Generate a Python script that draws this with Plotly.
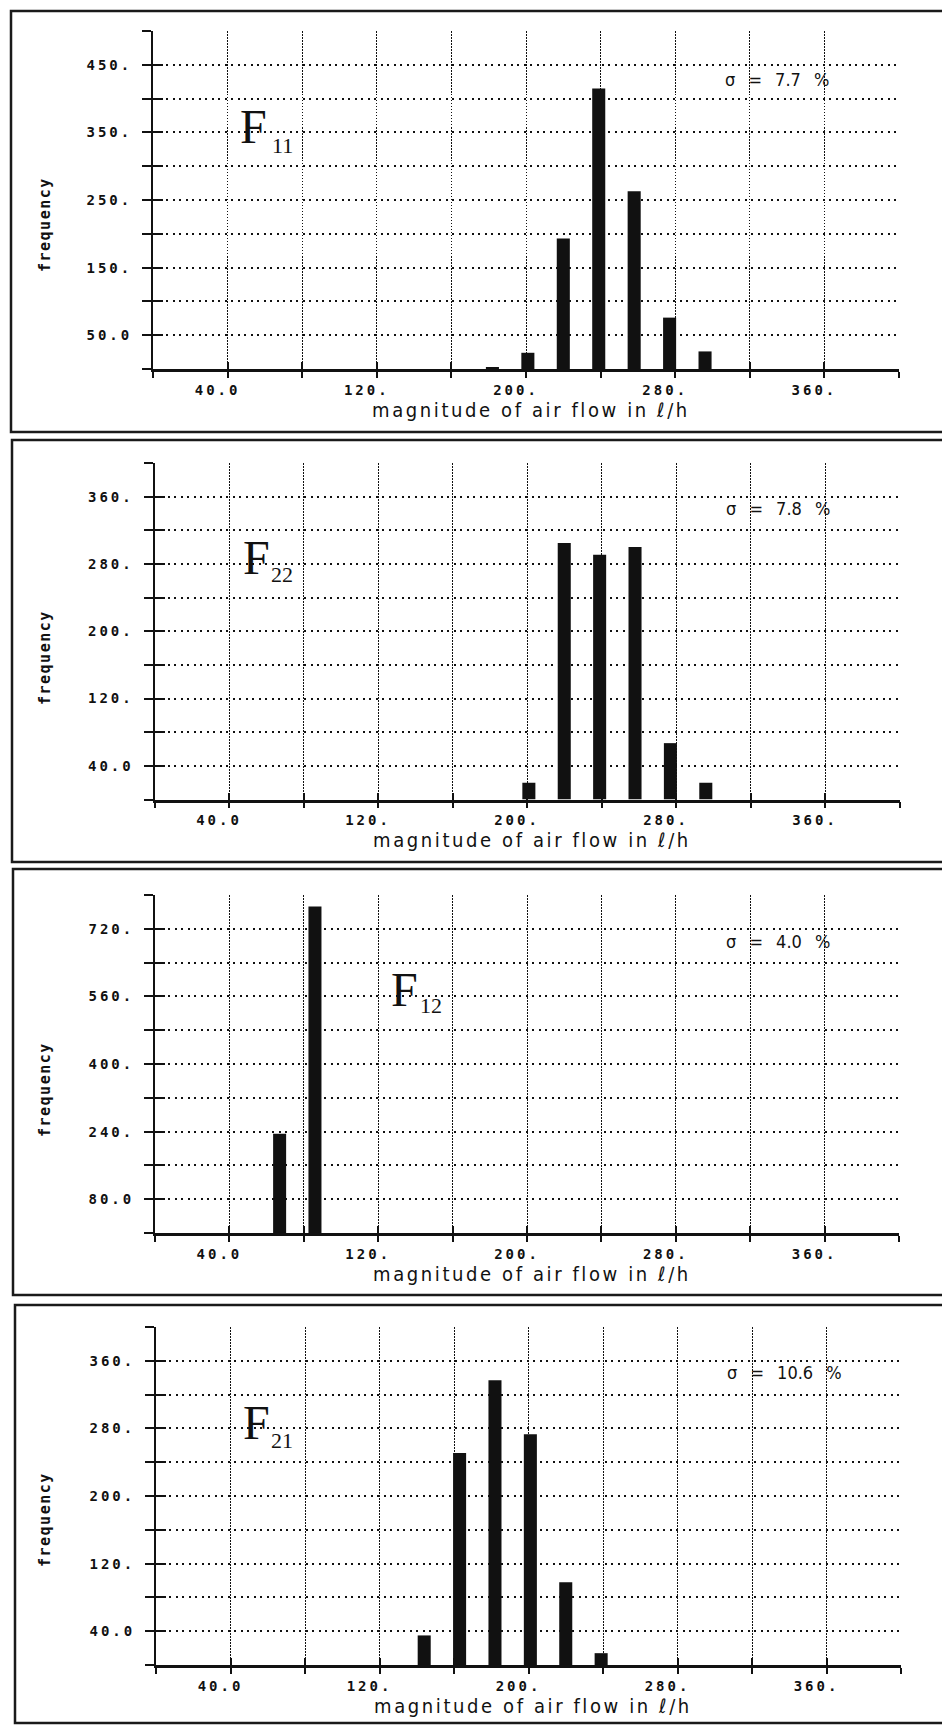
import plotly.graph_objects as go

W, H = 942, 1725

# ---------------- data ----------------
sub_labels = ["11", "22", "12", "21"]
sigma_labels = ["σ = 7.7 %", "σ = 7.8 %", "σ = 4.0 %", "σ = 10.6 %"]

flow_F11 = [182, 201, 220, 239, 258, 277, 296]
freq_F11 = [3, 24, 193, 415, 263, 76, 26]

flow_F22 = [201, 220, 239, 258, 277, 296]
freq_F22 = [20, 305, 291, 300, 67, 20]

flow_F12 = [67, 86]
freq_F12 = [235, 773]

flow_F21 = [144, 163, 182, 201, 220, 239]
freq_F21 = [35, 251, 337, 273, 98, 14]

x_tick_values = [0, 40, 80, 120, 160, 200, 240, 280, 320, 360, 400]
x_tick_labels = ["", "40.0", "", "120.", "", "200.", "", "280.", "", "360.", ""]

y_ticks_F11 = [0, 50, 100, 150, 200, 250, 300, 350, 400, 450, 500]
y_labels_F11 = ["", "50.0", "", "150.", "", "250.", "", "350.", "", "450.", ""]
y_ticks_F22 = [0, 40, 80, 120, 160, 200, 240, 280, 320, 360, 400]
y_labels_F22 = ["", "40.0", "", "120.", "", "200.", "", "280.", "", "360.", ""]
y_ticks_F12 = [0, 80, 160, 240, 320, 400, 480, 560, 640, 720, 800]
y_labels_F12 = ["", "80.0", "", "240.", "", "400.", "", "560.", "", "720.", ""]
y_ticks_F21 = [0, 40, 80, 120, 160, 200, 240, 280, 320, 360, 400]
y_labels_F21 = ["", "40.0", "", "120.", "", "200.", "", "280.", "", "360.", ""]

x_title = "magnitude of air flow in ℓ/h"
y_title = "frequency"

flows = [flow_F11, flow_F22, flow_F12, flow_F21]
freqs = [freq_F11, freq_F22, freq_F12, freq_F21]
y_ticks = [y_ticks_F11, y_ticks_F22, y_ticks_F12, y_ticks_F21]
y_labels = [y_labels_F11, y_labels_F22, y_labels_F12, y_labels_F21]

# ---------------- layout geometry (pixels) ----------------
plot_boxes = [(153, 899, 31, 369), (154.5, 899.5, 463, 799.5),
              (155, 899, 895, 1233), (156, 901, 1327, 1665)]
frames = [(11, 11, 432), (12, 440, 862), (13, 869, 1295), (15, 1305, 1723)]
F_pos = [(238, 127, 270, 146), (241, 557, 268.5, 575),
         (388.5, 989, 417.5, 1006), (241, 1422, 268.5, 1440)]
sigma_pos = [(723, 79), (724, 509), (724, 941), (725, 1372)]
xtitle_pos = [(531, 410), (532, 840), (532, 1274), (533, 1706)]
ytitle_pos = [(45, 225), (45, 658), (45, 1090), (45, 1520)]


def px_x(p):
    return p / W


def px_y(p):
    return 1 - p / H


def spaced(t, ls, extra=""):
    return f"<span style='letter-spacing:{ls}px;{extra}'>{t}</span>" if t else ""


MONO = "DejaVu Sans Mono, Liberation Mono, monospace"
NARROW = ("Liberation Sans Narrow, DejaVu Sans Condensed, Noto Sans Condensed, "
          "Roboto Condensed, Open Sans, Liberation Sans, sans-serif")
SERIF = "Liberation Serif, Times New Roman, DejaVu Serif, serif"
INK = "#111111"

fig = go.Figure()
layout = dict(
    width=W, height=H, margin=dict(l=0, r=0, t=0, b=0),
    paper_bgcolor="white", plot_bgcolor="white", showlegend=False,
)
annotations = []
shapes = []

for i in range(4):
    n = i + 1
    sfx = "" if n == 1 else str(n)
    xa, ya = "x" + sfx, "y" + sfx
    ox, oy = f"x{n + 4}", f"y{n + 4}"
    x0, x1, yt, yb = plot_boxes[i]

    fig.add_trace(go.Bar(
        x=flows[i], y=freqs[i], width=7, xaxis=xa, yaxis=ya,
        marker=dict(color=INK, line=dict(width=0)), showlegend=False,
    ))
    fig.add_trace(go.Scatter(x=[None], y=[None], xaxis=ox, yaxis=ya,
                             mode="markers", showlegend=False, hoverinfo="skip"))
    fig.add_trace(go.Scatter(x=[None], y=[None], xaxis=xa, yaxis=oy,
                             mode="markers", showlegend=False, hoverinfo="skip"))

    tickfont = dict(family=MONO, size=14, color=INK, weight="bold")
    layout["xaxis" + sfx] = dict(
        domain=[px_x(x0), px_x(x1)], anchor=ya, range=[0, 400],
        tickmode="array", tickvals=x_tick_values,
        ticktext=[spaced(t, 3) for t in x_tick_labels],
        ticks="outside", ticklen=6, tickwidth=2, tickcolor=INK,
        showline=True, linewidth=2.5, linecolor=INK,
        showgrid=True, gridcolor=INK, gridwidth=1.3, griddash="1.5px,1.5px",
        zeroline=False, tickfont=tickfont, ticklabelshift=-10, fixedrange=True,
    )
    layout["yaxis" + sfx] = dict(
        domain=[px_y(yb), px_y(yt)], anchor=xa, range=[0, y_ticks[i][-1]],
        tickmode="array", tickvals=y_ticks[i],
        ticktext=[spaced(t, 3) for t in y_labels[i]],
        ticks="outside", ticklen=9, tickwidth=2, tickcolor=INK,
        showline=True, linewidth=2, linecolor=INK,
        showgrid=True, gridcolor=INK, gridwidth=1.5, griddash="2px,4.5px",
        zeroline=False, tickfont=tickfont, ticklabelstandoff=7, fixedrange=True,
    )
    layout[f"xaxis{n + 4}"] = dict(
        overlaying=xa, anchor=ya, side="bottom", range=[0, 400],
        tickmode="array", tickvals=x_tick_values, ticks="inside", ticklen=7,
        tickwidth=2, tickcolor=INK, showticklabels=False, showgrid=False,
        showline=False, zeroline=False, fixedrange=True,
    )
    layout[f"yaxis{n + 4}"] = dict(
        overlaying=ya, anchor=xa, side="left", range=[0, y_ticks[i][-1]],
        tickmode="array", tickvals=y_ticks[i], ticks="inside", ticklen=10,
        tickwidth=2, tickcolor=INK, showticklabels=False, showgrid=False,
        showline=False, zeroline=False, fixedrange=True,
    )

    fx, fy, sx, sy = F_pos[i]
    annotations.append(dict(text="F", x=px_x(fx), y=px_y(fy), xref="paper", yref="paper",
                            xanchor="left", yanchor="middle", showarrow=False,
                            font=dict(family=SERIF, size=48, color=INK)))
    annotations.append(dict(text=sub_labels[i], x=px_x(sx), y=px_y(sy), xref="paper", yref="paper",
                            xanchor="left", yanchor="middle", showarrow=False,
                            font=dict(family=SERIF, size=22, color=INK)))
    gx, gy = sigma_pos[i]
    annotations.append(dict(text=f"<span style='word-spacing:8px;font-stretch:condensed'>{sigma_labels[i]}</span>",
                            x=px_x(gx), y=px_y(gy), xref="paper", yref="paper",
                            xanchor="left", yanchor="middle", showarrow=False,
                            font=dict(family=NARROW, size=18, color=INK)))
    tx, ty = xtitle_pos[i]
    annotations.append(dict(text=spaced(x_title, 2.6, "font-stretch:condensed"), x=px_x(tx), y=px_y(ty),
                            xref="paper", yref="paper", xanchor="center", yanchor="middle",
                            showarrow=False, font=dict(family=NARROW, size=20, color=INK)))
    vx, vy = ytitle_pos[i]
    annotations.append(dict(text=spaced(y_title, 1.5), x=px_x(vx), y=px_y(vy),
                            xref="paper", yref="paper", xanchor="center", yanchor="middle",
                            textangle=-90, showarrow=False,
                            font=dict(family=MONO, size=15, color=INK, weight="bold")))

    fl, ft, fb = frames[i]
    shapes.append(dict(type="rect", xref="paper", yref="paper",
                       x0=px_x(fl), x1=1.02, y0=px_y(fb), y1=px_y(ft),
                       line=dict(color="#1a1a1a", width=2.5), fillcolor="rgba(0,0,0,0)"))

layout["annotations"] = annotations
layout["shapes"] = shapes
fig.update_layout(**layout)

fig.write_html("out.html", config={"displayModeBar": False})
